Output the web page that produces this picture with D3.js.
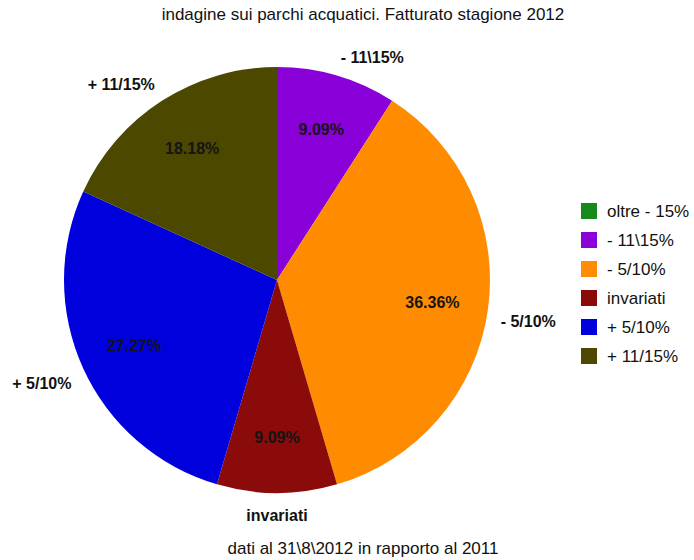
<!DOCTYPE html>
<html>
<head>
<meta charset="utf-8">
<script src="https://cdn.jsdelivr.net/npm/d3@7"></script>
<style>
  html, body { margin: 0; padding: 0; background: #fff; }
  svg { display: block; font-family: "Liberation Sans", Arial, sans-serif; }
</style>
</head>
<body>
<svg id="chart" width="694" height="560"></svg>
<script>
// Survey of water parks: 2012 season turnover vs 2011 (number of parks per class)
const categories = ["oltre - 15%", "- 11\\15%", "- 5/10%", "invariati", "+ 5/10%", "+ 11/15%"];
const counts     = [0, 1, 4, 1, 3, 2];
const colors     = ["#14891c", "#8a00d8", "#ff8c00", "#8b0b0b", "#0000dc", "#4c4800"];
const titleText  = "indagine sui parchi acquatici. Fatturato stagione 2012";
const footerText = "dati al 31\\8\\2012 in rapporto al 2011";

const svg = d3.select("#chart");
const W = 694, H = 560;
const cx = 277, cy = 280, R = 213;

const data = categories.map((c, i) => ({ cat: c, value: counts[i], color: colors[i] }));
const total = d3.sum(counts);
const pct = d3.format(".2f");

const color = d3.scaleOrdinal().domain(categories).range(colors);

const pie = d3.pie().sort(null).value(d => d.value);
const arcs = pie(data).filter(a => a.data.value > 0);

const arc = d3.arc().innerRadius(0).outerRadius(R);
const innerArc = d3.arc().innerRadius(157).outerRadius(157);
const outerArc = d3.arc().innerRadius(R + 13).outerRadius(R + 13);

const g = svg.append("g").attr("transform", `translate(${cx},${cy})`);

g.selectAll("path.slice")
  .data(arcs)
  .join("path")
  .attr("class", "slice")
  .attr("d", arc)
  .attr("fill", d => color(d.data.cat));

// percentage inside each slice
g.selectAll("text.pct")
  .data(arcs)
  .join("text")
  .attr("class", "pct")
  .attr("transform", d => `translate(${innerArc.centroid(d)})`)
  .attr("text-anchor", "middle")
  .attr("dy", "0.36em")
  .attr("font-size", 16)
  .attr("font-weight", "bold")
  .attr("fill", "#141414")
  .text(d => pct(d.data.value / total * 100) + "%");

// category name outside each slice
g.selectAll("text.cat")
  .data(arcs)
  .join("text")
  .attr("class", "cat")
  .each(function(d) {
    const mid = (d.startAngle + d.endAngle) / 2;
    const s = Math.sin(mid), c = Math.cos(mid);
    const [x, y] = outerArc.centroid(d);
    const anchor = Math.abs(s) < 0.2 ? "middle" : (s > 0 ? "start" : "end");
    let by;
    if (c > 0.1) by = y;            // label above the point
    else if (c < -0.1) by = y + 15; // label below the point
    else by = y + 5;
    d3.select(this)
      .attr("x", x)
      .attr("y", by)
      .attr("text-anchor", anchor);
  })
  .attr("font-size", 16)
  .attr("font-weight", "bold")
  .attr("fill", "#111")
  .text(d => d.data.cat);

// title and footnote
svg.append("text")
  .attr("x", 363).attr("y", 20)
  .attr("text-anchor", "middle")
  .attr("font-size", 17)
  .attr("fill", "#111")
  .text(titleText);

svg.append("text")
  .attr("x", 363).attr("y", 554)
  .attr("text-anchor", "middle")
  .attr("font-size", 17)
  .attr("fill", "#111")
  .text(footerText);

// legend
const legendY = d3.scalePoint().domain(categories).range([211, 211 + 29 * 5]);
const legend = svg.append("g");
const rows = legend.selectAll("g.row")
  .data(data)
  .join("g")
  .attr("class", "row")
  .attr("transform", d => `translate(581,${legendY(d.cat)})`);

rows.append("rect")
  .attr("x", 0).attr("y", -8)
  .attr("width", 16).attr("height", 16)
  .attr("fill", d => color(d.cat));

rows.append("text")
  .attr("x", 26).attr("y", 6)
  .attr("font-size", 17)
  .attr("fill", "#111")
  .text(d => d.cat);
</script>
</body>
</html>
